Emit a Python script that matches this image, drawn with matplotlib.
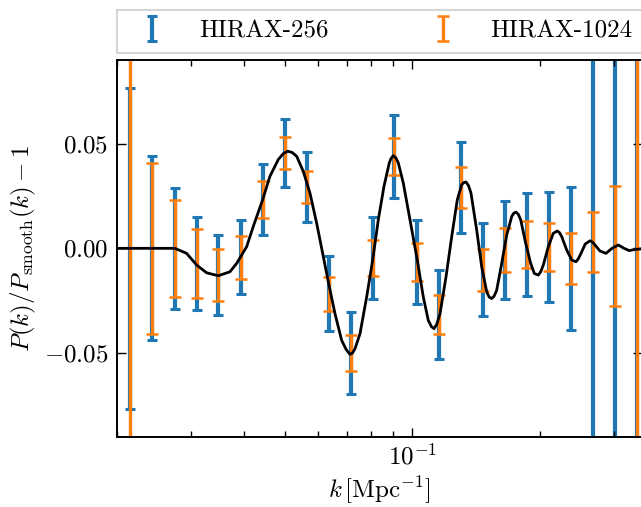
import matplotlib
matplotlib.use("Agg")
import matplotlib.pyplot as plt
from matplotlib.ticker import NullFormatter, FixedLocator

plt.rcParams["font.family"] = "serif"
plt.rcParams["font.serif"] = ["cmr10"]
plt.rcParams["mathtext.fontset"] = "cm"
plt.rcParams["axes.formatter.use_mathtext"] = True
plt.rcParams["font.size"] = 18

# band-power bins (k in Mpc^-1) and measured wiggle amplitude
k_bins = [0.0215, 0.0243, 0.0275, 0.0309, 0.0348, 0.0393, 0.0443, 0.0500,
          0.0563, 0.0634, 0.0715, 0.0806, 0.0907, 0.1027, 0.1156, 0.1303,
          0.1472, 0.1657, 0.1865, 0.2105, 0.2369, 0.2680, 0.3016, 0.3405]
centers = [0.0, 0.0, 0.0, -0.0072, -0.0128, -0.0043, 0.0233, 0.0456,
           0.0293, -0.0217, -0.0500, -0.0044, 0.0438, -0.0066, -0.0316, 0.0292,
           -0.0102, -0.0008, 0.0018, 0.0005, -0.0047, 0.0030, 0.0010, 0.0]
err_256 = [0.0768, 0.0440, 0.0288, 0.0224, 0.0192, 0.0176, 0.0170, 0.0164,
           0.0168, 0.0180, 0.0196, 0.0196, 0.0198, 0.0202, 0.0212, 0.0217,
           0.0222, 0.0232, 0.0246, 0.0262, 0.0342, 0.40, 0.60, 1.0]
err_1024 = [0.40, 0.0410, 0.0232, 0.0163, 0.0123, 0.0102, 0.0090, 0.0078,
            0.0078, 0.0082, 0.0088, 0.0086, 0.0088, 0.0090, 0.0094, 0.0098,
            0.0100, 0.0104, 0.0111, 0.0114, 0.0122, 0.0142, 0.0286, 0.60]

# BAO model curve
k_model = [0.0200, 0.02396, 0.02746, 0.02926, 0.03091, 0.03264, 0.03477, 0.03705,
           0.03843, 0.03949, 0.04058, 0.04206, 0.04427, 0.04606, 0.04820, 0.0495,
           0.05073, 0.0520, 0.05328, 0.05523, 0.05728, 0.05941, 0.06105, 0.06342,
           0.06564, 0.06808, 0.0697, 0.07123, 0.0722, 0.07320, 0.07522, 0.07801,
           0.08060, 0.08310, 0.08571, 0.08822, 0.0890, 0.09017, 0.0915, 0.09267,
           0.09522, 0.09876, 0.10276, 0.10617, 0.10910, 0.1110, 0.11254, 0.1142,
           0.11630, 0.12016, 0.12395, 0.12777, 0.13087, 0.1323, 0.13397, 0.1358,
           0.13766, 0.14199, 0.14591, 0.14997, 0.1520, 0.15410, 0.1562, 0.15835,
           0.16272, 0.16724, 0.17185, 0.1738, 0.17593, 0.1782, 0.18048, 0.18545,
           0.19055, 0.19436, 0.19861, 0.2012, 0.20409, 0.20975, 0.21553, 0.22029,
           0.2229, 0.22563, 0.23185, 0.23823, 0.24389, 0.2470, 0.25020, 0.25655,
           0.26319, 0.2668, 0.27046, 0.27792, 0.28716, 0.29623, 0.30707, 0.31676,
           0.32602, 0.33632, 0.34750, 0.3550]
wiggle = [0.0, 0.0, 0.0, -0.0024, -0.0080, -0.0117, -0.0131, -0.0112,
          -0.0072, -0.0032, 0.0008, 0.0104, 0.0232, 0.0344, 0.0424, 0.0452,
          0.0464, 0.0458, 0.0440, 0.0368, 0.0264, 0.0120, 0.0, -0.0168,
          -0.0312, -0.0440, -0.0482, -0.0507, -0.0500, -0.0480, -0.0408, -0.0232,
          -0.0056, 0.0136, 0.0296, 0.0408, 0.0428, 0.0443, 0.0432, 0.0408,
          0.0312, 0.0136, -0.0056, -0.0232, -0.0344, -0.0374, -0.0384, -0.0364,
          -0.0312, -0.0136, 0.0056, 0.0232, 0.0304, 0.0314, 0.0317, 0.0300,
          0.0264, 0.0088, -0.0088, -0.0208, -0.0233, -0.0240, -0.0228, -0.0200,
          -0.0072, 0.0064, 0.0152, 0.0168, 0.0173, 0.0162, 0.0136, 0.0024,
          -0.0072, -0.0120, -0.0128, -0.0112, -0.0080, 0.0008, 0.0072, 0.0083,
          0.0075, 0.0056, -0.0008, -0.0056, -0.0064, -0.0050, -0.0027, 0.0021,
          0.0036, 0.0030, 0.0016, -0.0013, -0.0024, -0.0001, 0.0016, 0.0,
          -0.0011, -0.0005, -0.0003, -0.0002]

fig = plt.figure(figsize=(6.41, 5.07), dpi=100)
ax = fig.add_axes([0.1821, 0.1387, 0.820, 0.743])

ax.plot(k_model, wiggle, color="black", lw=2.0, zorder=3)
ax.errorbar(k_bins, centers, yerr=err_256, fmt="none", ecolor="#1f77b4",
            elinewidth=3.0, capsize=3.6, capthick=2.2, label="HIRAX-256", zorder=1)
ax.errorbar(k_bins, centers, yerr=err_1024, fmt="none", ecolor="#ff7f0e",
            elinewidth=2.4, capsize=4.6, capthick=1.8, label="HIRAX-1024", zorder=2)

ax.set_xscale("log")
ax.set_xlim(0.02, 0.35)
ax.set_ylim(-0.09, 0.09)
ax.yaxis.set_major_locator(FixedLocator([-0.05, 0.0, 0.05]))
ax.xaxis.set_minor_formatter(NullFormatter())
ax.tick_params(which="both", direction="in", top=True, right=True, width=1.0)
ax.tick_params(which="major", length=6.5)
ax.tick_params(which="minor", length=4)
ax.tick_params(axis="y", pad=6)
ax.tick_params(axis="x", pad=5)
for s in ax.spines.values():
    s.set_linewidth(1.4)

ax.set_xlabel(r"$k\,[\mathrm{Mpc}^{-1}]$")
ax.set_ylabel(r"$P(k)/P_{\rm smooth}(k) - 1$")

leg = ax.legend(loc="lower left", bbox_to_anchor=(0, 1.0194, 1, 0.1), mode="expand",
                ncol=2, borderaxespad=0, fancybox=False, handlelength=2,
                handletextpad=0.9, borderpad=0.4)
leg.get_frame().set_edgecolor("#cccccc")
leg.get_frame().set_linewidth(1.5)

fig.savefig("out.png", dpi=100)
